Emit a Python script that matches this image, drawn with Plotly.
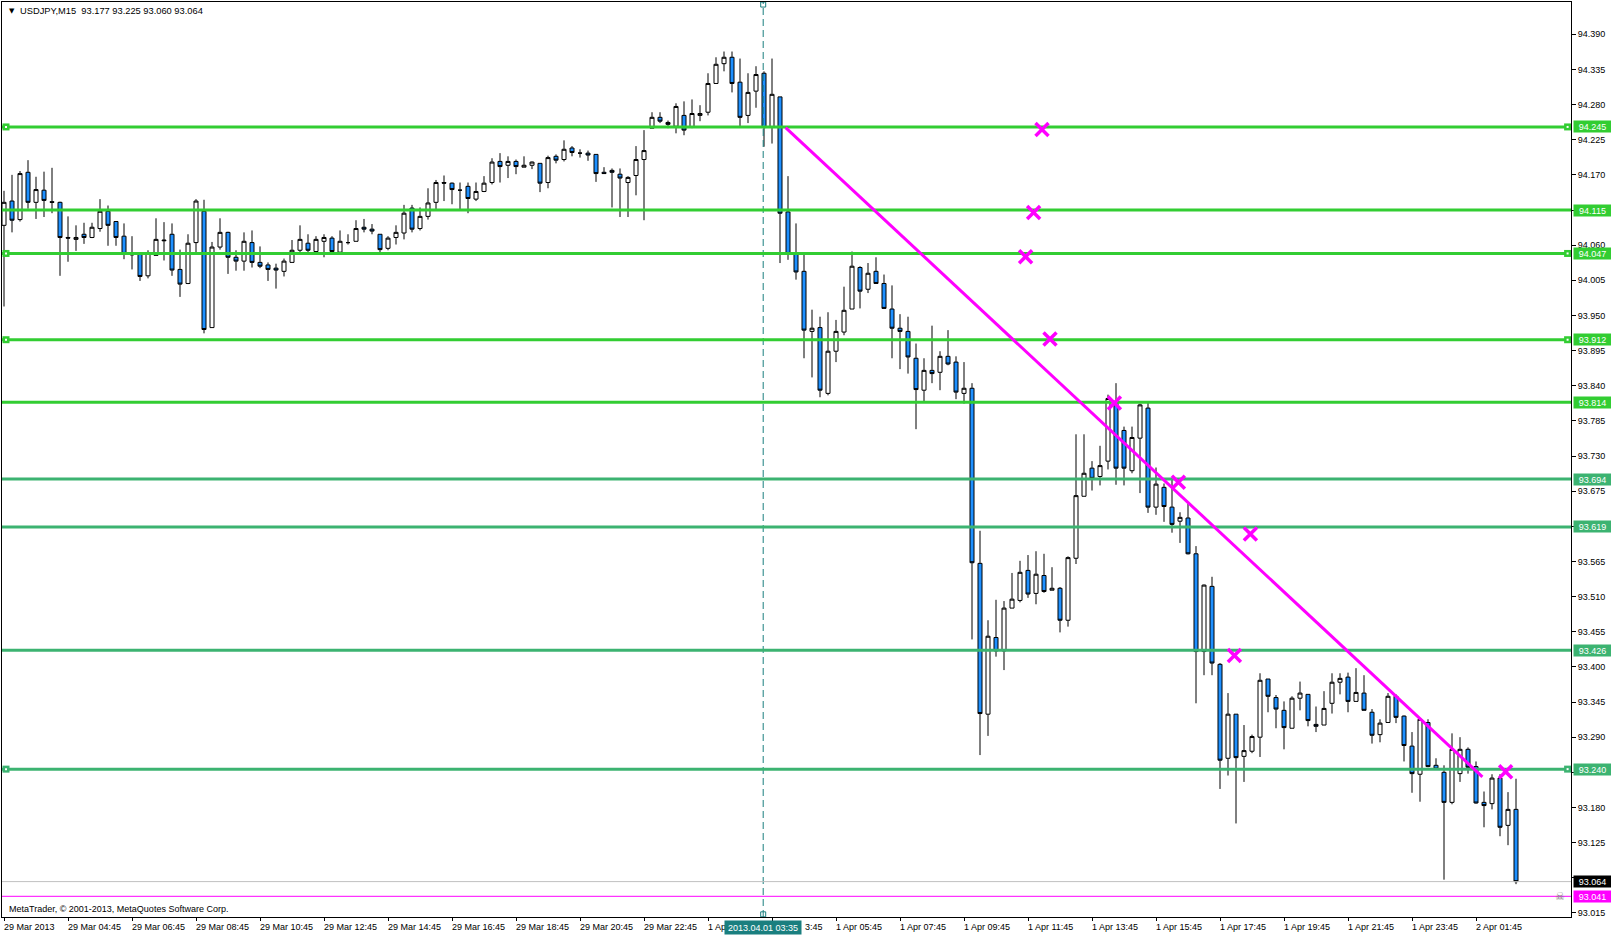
import plotly.graph_objects as go

# ---------------- data (USDJPY M15) ----------------
opens = [94.091, 94.129, 94.100, 94.174, 94.127, 94.146, 94.128, 94.127, 94.072, 94.069,
         94.077, 94.072, 94.086, 94.113, 94.097, 94.074, 94.046, 94.047, 94.012, 94.044,
         94.068, 94.077, 94.022, 94.000, 94.064, 94.113, 93.931, 94.057, 94.080, 94.041,
         94.035, 94.064, 94.033, 94.029, 94.024, 94.019, 94.033, 94.052, 94.063, 94.050,
         94.066, 94.071, 94.049, 94.064, 94.066, 94.088, 94.085, 94.077, 94.055, 94.072,
         94.079, 94.118, 94.086, 94.105, 94.127, 94.158, 94.157, 94.146, 94.152, 94.132,
         94.144, 94.158, 94.191, 94.185, 94.191, 94.182, 94.185, 94.188, 94.158, 94.199,
         94.194, 94.212, 94.204, 94.204, 94.202, 94.174, 94.177, 94.171, 94.158, 94.169,
         94.194, 94.243, 94.260, 94.252, 94.246, 94.263, 94.245, 94.263, 94.268, 94.313,
         94.344, 94.354, 94.315, 94.263, 94.301, 94.329, 94.245, 94.292, 94.112, 94.046,
         94.019, 93.925, 93.931, 93.828, 93.894, 93.924, 93.960, 94.025, 93.991, 94.019,
         94.000, 93.960, 93.930, 93.925, 93.883, 93.833, 93.864, 93.861, 93.886, 93.877,
         93.828, 93.836, 93.562, 93.326, 93.446, 93.425, 93.492, 93.504, 93.551, 93.515,
         93.543, 93.520, 93.523, 93.473, 93.570, 93.667, 93.711, 93.698, 93.722, 93.815,
         93.770, 93.707, 93.758, 93.805, 93.650, 93.681, 93.650, 93.628, 93.633, 93.577,
         93.424, 93.526, 93.404, 93.257, 93.326, 93.260, 93.268, 93.290, 93.381, 93.352,
         93.332, 93.304, 93.351, 93.357, 93.310, 93.309, 93.343, 93.376, 93.384, 93.346,
         93.359, 93.329, 93.294, 93.313, 93.354, 93.323, 93.276, 93.232, 93.313, 93.246,
         93.235, 93.188, 93.233, 93.271, 93.244, 93.188, 93.186, 93.226, 93.152, 93.177]
highs = [94.145, 94.170, 94.176, 94.193, 94.167, 94.175, 94.181, 94.128, 94.105, 94.091,
         94.095, 94.095, 94.132, 94.122, 94.097, 94.094, 94.074, 94.047, 94.052, 94.102,
         94.096, 94.094, 94.053, 94.077, 94.132, 94.131, 94.065, 94.102, 94.081, 94.052,
         94.080, 94.083, 94.058, 94.033, 94.031, 94.039, 94.068, 94.091, 94.077, 94.074,
         94.077, 94.074, 94.083, 94.077, 94.099, 94.101, 94.093, 94.077, 94.074, 94.091,
         94.123, 94.123, 94.119, 94.149, 94.162, 94.169, 94.158, 94.158, 94.158, 94.158,
         94.168, 94.196, 94.204, 94.199, 94.194, 94.199, 94.191, 94.188, 94.200, 94.202,
         94.224, 94.215, 94.210, 94.208, 94.202, 94.182, 94.180, 94.180, 94.168, 94.215,
         94.240, 94.268, 94.268, 94.255, 94.282, 94.285, 94.288, 94.279, 94.329, 94.354,
         94.363, 94.363, 94.352, 94.329, 94.340, 94.332, 94.352, 94.292, 94.168, 94.094,
         94.047, 93.959, 93.948, 93.955, 93.943, 93.995, 94.050, 94.027, 94.032, 94.041,
         94.014, 93.997, 93.952, 93.948, 93.906, 93.883, 93.934, 93.894, 93.927, 93.886,
         93.877, 93.844, 93.613, 93.473, 93.505, 93.503, 93.547, 93.566, 93.575, 93.581,
         93.577, 93.556, 93.525, 93.573, 93.764, 93.764, 93.722, 93.746, 93.826, 93.844,
         93.776, 93.776, 93.812, 93.815, 93.712, 93.687, 93.695, 93.642, 93.656, 93.589,
         93.529, 93.541, 93.406, 93.359, 93.326, 93.309, 93.294, 93.390, 93.381, 93.356,
         93.346, 93.354, 93.377, 93.357, 93.338, 93.362, 93.390, 93.390, 93.391, 93.398,
         93.387, 93.334, 93.318, 93.359, 93.357, 93.324, 93.298, 93.318, 93.318, 93.257,
         93.246, 93.296, 93.290, 93.274, 93.252, 93.205, 93.232, 93.232, 93.204, 93.225]
lows = [93.964, 94.080, 94.097, 94.117, 94.101, 94.104, 94.110, 94.012, 94.034, 94.051,
        94.062, 94.071, 94.081, 94.059, 94.059, 94.038, 94.022, 94.004, 94.008, 94.044,
        94.036, 94.012, 93.979, 93.999, 94.048, 93.922, 93.931, 94.053, 94.015, 94.020,
        94.020, 94.025, 94.024, 94.004, 93.992, 94.011, 94.033, 94.048, 94.047, 94.048,
        94.041, 94.047, 94.047, 94.061, 94.066, 94.080, 94.077, 94.047, 94.052, 94.061,
        94.069, 94.080, 94.083, 94.100, 94.115, 94.129, 94.124, 94.114, 94.110, 94.129,
        94.143, 94.155, 94.158, 94.165, 94.171, 94.182, 94.179, 94.143, 94.149, 94.188,
        94.191, 94.199, 94.197, 94.192, 94.159, 94.172, 94.119, 94.104, 94.104, 94.138,
        94.099, 94.243, 94.251, 94.243, 94.235, 94.232, 94.243, 94.254, 94.263, 94.313,
        94.332, 94.299, 94.245, 94.251, 94.275, 94.214, 94.219, 94.032, 94.037, 94.006,
        93.883, 93.853, 93.822, 93.825, 93.877, 93.919, 93.960, 93.961, 93.985, 94.000,
        93.960, 93.883, 93.866, 93.859, 93.772, 93.815, 93.844, 93.833, 93.872, 93.819,
        93.812, 93.443, 93.262, 93.292, 93.416, 93.395, 93.492, 93.501, 93.508, 93.498,
        93.516, 93.520, 93.454, 93.463, 93.561, 93.667, 93.676, 93.684, 93.709, 93.685,
        93.684, 93.703, 93.672, 93.641, 93.638, 93.627, 93.610, 93.594, 93.576, 93.343,
        93.387, 93.387, 93.209, 93.230, 93.155, 93.220, 93.265, 93.259, 93.329, 93.304,
        93.271, 93.304, 93.332, 93.307, 93.298, 93.309, 93.327, 93.357, 93.329, 93.346,
        93.332, 93.280, 93.282, 93.313, 93.312, 93.252, 93.203, 93.189, 93.243, 93.240,
        93.067, 93.185, 93.220, 93.233, 93.186, 93.149, 93.177, 93.135, 93.121, 93.060]
closes = [94.127, 94.099, 94.172, 94.127, 94.147, 94.130, 94.127, 94.072, 94.071, 94.072,
          94.072, 94.088, 94.113, 94.091, 94.072, 94.047, 94.045, 94.011, 94.047, 94.069,
          94.067, 94.021, 93.999, 94.063, 94.129, 93.928, 94.057, 94.080, 94.041, 94.035,
          94.066, 94.033, 94.027, 94.022, 94.021, 94.035, 94.052, 94.069, 94.052, 94.069,
          94.072, 94.050, 94.066, 94.064, 94.086, 94.085, 94.082, 94.053, 94.071, 94.080,
          94.110, 94.085, 94.105, 94.126, 94.158, 94.157, 94.147, 94.146, 94.133, 94.144,
          94.157, 94.190, 94.183, 94.191, 94.183, 94.185, 94.190, 94.157, 94.197, 94.193,
          94.210, 94.205, 94.204, 94.201, 94.172, 94.172, 94.174, 94.165, 94.166, 94.194,
          94.208, 94.260, 94.254, 94.249, 94.277, 94.240, 94.266, 94.266, 94.313, 94.343,
          94.354, 94.313, 94.260, 94.299, 94.327, 94.244, 94.296, 94.110, 94.047, 94.018,
          93.927, 93.930, 93.833, 93.894, 93.925, 93.958, 94.027, 93.988, 94.016, 94.000,
          93.961, 93.930, 93.925, 93.885, 93.834, 93.864, 93.859, 93.886, 93.874, 93.830,
          93.836, 93.563, 93.327, 93.448, 93.425, 93.492, 93.506, 93.548, 93.514, 93.545,
          93.518, 93.523, 93.473, 93.571, 93.668, 93.703, 93.695, 93.715, 93.820, 93.711,
          93.711, 93.759, 93.810, 93.650, 93.686, 93.651, 93.623, 93.634, 93.577, 93.424,
          93.528, 93.406, 93.254, 93.326, 93.258, 93.269, 93.291, 93.379, 93.354, 93.334,
          93.305, 93.351, 93.359, 93.316, 93.307, 93.335, 93.376, 93.382, 93.346, 93.360,
          93.332, 93.293, 93.312, 93.354, 93.321, 93.277, 93.233, 93.318, 93.244, 93.240,
          93.188, 93.271, 93.271, 93.243, 93.187, 93.183, 93.226, 93.149, 93.177, 93.064]
bar_index = list(range(len(opens)))

bright_levels = [94.245, 94.115, 94.047, 93.912, 93.814]
sea_levels = [93.694, 93.619, 93.426, 93.240]
handle_levels = [94.245, 94.047, 93.912, 93.240]
bid_price = 93.064
alert_price = 93.041

price_ticks = [93.015, 93.070, 93.125, 93.180, 93.235, 93.290, 93.345, 93.400, 93.455,
               93.510, 93.565, 93.620, 93.675, 93.730, 93.785, 93.840, 93.895, 93.950,
               94.005, 94.060, 94.115, 94.170, 94.225, 94.280, 94.335, 94.390]
# tick labels hidden behind the price boxes in the picture
covered_ticks = [93.070, 93.235, 93.620, 94.115]

time_tick_index = [0, 8, 16, 24, 32, 40, 48, 56, 64, 72, 80, 88, 96, 104, 112, 120,
                   128, 136, 144, 152, 160, 168, 176, 184]
time_tick_text = ["29 Mar 2013", "29 Mar 04:45", "29 Mar 06:45", "29 Mar 08:45",
                  "29 Mar 10:45", "29 Mar 12:45", "29 Mar 14:45", "29 Mar 16:45",
                  "29 Mar 18:45", "29 Mar 20:45", "29 Mar 22:45", "1 Ap",
                  "3:45", "1 Apr 05:45", "1 Apr 07:45", "1 Apr 09:45",
                  "1 Apr 11:45", "1 Apr 13:45", "1 Apr 15:45", "1 Apr 17:45",
                  "1 Apr 19:45", "1 Apr 21:45", "1 Apr 23:45", "2 Apr 01:45"]

trend_x = [97.7, 184.8]
trend_y = [94.244, 93.228]
cross_x = [129.75, 128.7, 127.7, 130.75, 138.8, 146.8, 155.8, 153.8, 187.7]
cross_y = [94.241, 94.111, 94.042, 93.913, 93.813, 93.689, 93.608, 93.418, 93.236]
vline_index = 94.9
vline_label = "2013.04.01 03:35"

# ---------------- styling ----------------
FONT = "Liberation Sans"
X_RANGE = [-0.25, 195.875]
Y_RANGE = [93.0086, 94.4405]
BRIGHT = "#32CD32"
SEA = "#3CB371"
TEAL = "#1A7F7F"
MAGENTA = "#FF00FF"

fig = go.Figure()

fig.add_trace(go.Candlestick(
    x=bar_index, open=opens, high=highs, low=lows, close=closes,
    increasing=dict(line=dict(color="black", width=1), fillcolor="white"),
    decreasing=dict(line=dict(color="black", width=1), fillcolor="#1E90FF"),
    whiskerwidth=0, hoverinfo="skip", showlegend=False))

# vertical dashed line
fig.add_trace(go.Scatter(x=[vline_index, vline_index], y=Y_RANGE, mode="lines",
                         line=dict(color=TEAL, width=1, dash="7px,4px"),
                         hoverinfo="skip", showlegend=False))
fig.add_trace(go.Scatter(x=[vline_index, vline_index], y=[94.4365, 93.0128], mode="markers",
                         marker=dict(symbol="square-open", size=5, color=TEAL,
                                     line=dict(width=1, color=TEAL)),
                         cliponaxis=False, hoverinfo="skip", showlegend=False))

# bid and alert lines
fig.add_trace(go.Scatter(x=X_RANGE, y=[bid_price, bid_price], mode="lines",
                         line=dict(color="#C0C0C0", width=1), hoverinfo="skip", showlegend=False))
fig.add_trace(go.Scatter(x=X_RANGE, y=[alert_price, alert_price], mode="lines",
                         line=dict(color=MAGENTA, width=1), hoverinfo="skip", showlegend=False))

# horizontal levels
for lv in bright_levels:
    fig.add_trace(go.Scatter(x=X_RANGE, y=[lv, lv], mode="lines",
                             line=dict(color=BRIGHT, width=3), hoverinfo="skip", showlegend=False))
for lv in sea_levels:
    fig.add_trace(go.Scatter(x=X_RANGE, y=[lv, lv], mode="lines",
                             line=dict(color=SEA, width=3), hoverinfo="skip", showlegend=False))

# trend line
fig.add_trace(go.Scatter(x=trend_x, y=trend_y, mode="lines",
                         line=dict(color=MAGENTA, width=3), hoverinfo="skip", showlegend=False))

# cross marks
fig.add_trace(go.Scatter(x=cross_x, y=cross_y, mode="markers",
                         marker=dict(symbol="x-thin", size=13, color=MAGENTA,
                                     line=dict(width=3.5, color=MAGENTA)),
                         hoverinfo="skip", showlegend=False))

# line handles
handle_col = [BRIGHT if lv in bright_levels else SEA for lv in handle_levels]
for hx in [0.25, 195.45]:
    fig.add_trace(go.Scatter(x=[hx] * len(handle_levels), y=handle_levels, mode="markers",
                             marker=dict(symbol="square", size=7, color=handle_col),
                             cliponaxis=False, hoverinfo="skip", showlegend=False))
    fig.add_trace(go.Scatter(x=[hx] * len(handle_levels), y=handle_levels, mode="markers",
                             marker=dict(symbol="square", size=2, color="white"),
                             cliponaxis=False, hoverinfo="skip", showlegend=False))

annotations = []
# x axis labels (left aligned at bar, MetaTrader style)
for xi, txt in zip(time_tick_index, time_tick_text):
    shift = -2
    if txt == "3:45":
        shift = 31   # visible tail of "1 Apr 03:45" right of the cursor time box
    annotations.append(dict(x=xi, xref="x", y=0, yref="paper", text=txt, showarrow=False,
                            xanchor="left", yanchor="middle", xshift=shift, yshift=-10,
                            font=dict(family=FONT, size=9, color="black")))
annotations.append(dict(x=vline_index, xref="x", y=0, yref="paper", text=vline_label,
                        showarrow=False, xanchor="center", yanchor="middle", yshift=-10,
                        bgcolor=TEAL, borderpad=1, width=74, height=11,
                        font=dict(family=FONT, size=9, color="white")))

# price boxes on the right axis
def price_box(price, color):
    return dict(x=1, xref="paper", y=price, yref="y", text=f"{price:.3f}", showarrow=False,
                xanchor="left", yanchor="middle", xshift=2, bgcolor=color, borderpad=0,
                width=37, height=11, align="center",
                font=dict(family=FONT, size=9, color="white"))

for lv in bright_levels:
    annotations.append(price_box(lv, BRIGHT))
for lv in sea_levels:
    annotations.append(price_box(lv, SEA))
annotations.append(price_box(bid_price, "black"))
annotations.append(price_box(alert_price, MAGENTA))

# header and footer texts
annotations.append(dict(x=0, xref="paper", y=1, yref="paper", text="▼", showarrow=False,
                        xanchor="left", yanchor="middle", xshift=5, yshift=-9,
                        font=dict(family="DejaVu Sans", size=7, color="black")))
annotations.append(dict(x=0, xref="paper", y=1, yref="paper",
                        text="USDJPY,M15  93.177 93.225 93.060 93.064", showarrow=False,
                        xanchor="left", yanchor="middle", xshift=16, yshift=-9,
                        font=dict(family=FONT, size=9.3, color="black")))
annotations.append(dict(x=0, xref="paper", y=0, yref="paper",
                        text="MetaTrader, © 2001-2013, MetaQuotes Software Corp.", showarrow=False,
                        xanchor="left", yanchor="middle", xshift=5, yshift=8,
                        font=dict(family=FONT, size=9, color="black")))
annotations.append(dict(x=1, xref="paper", y=0, yref="paper", text="☠", showarrow=False,
                        xanchor="center", yanchor="middle", xshift=-11, yshift=21,
                        font=dict(family="DejaVu Sans", size=11, color="#808080")))

fig.update_layout(
    width=1611, height=936,
    margin=dict(l=2, r=40, t=2, b=19),
    paper_bgcolor="white", plot_bgcolor="white",
    showlegend=False,
    boxgap=0.5, boxgroupgap=0,
    font=dict(family=FONT, size=9, color="black"),
    annotations=annotations,
    xaxis=dict(range=X_RANGE, showgrid=False, zeroline=False, showline=True, mirror=True,
               linecolor="black", linewidth=1, tickmode="array", tickvals=time_tick_index,
               ticks="outside", ticklen=3, tickcolor="black", showticklabels=False,
               rangeslider=dict(visible=False), fixedrange=True),
    yaxis=dict(range=Y_RANGE, side="right", showgrid=False, zeroline=False, showline=True,
               mirror=True, linecolor="black", linewidth=1, tickmode="array",
               tickvals=price_ticks,
               ticktext=["" if v in covered_ticks else f"{v:.3f}" for v in price_ticks],
               ticks="outside", ticklen=4, tickcolor="black",
               tickfont=dict(family=FONT, size=9, color="black"), fixedrange=True),
)

fig.write_html("out.html", config={"displayModeBar": False},
               post_script="document.body.style.margin='0';")
